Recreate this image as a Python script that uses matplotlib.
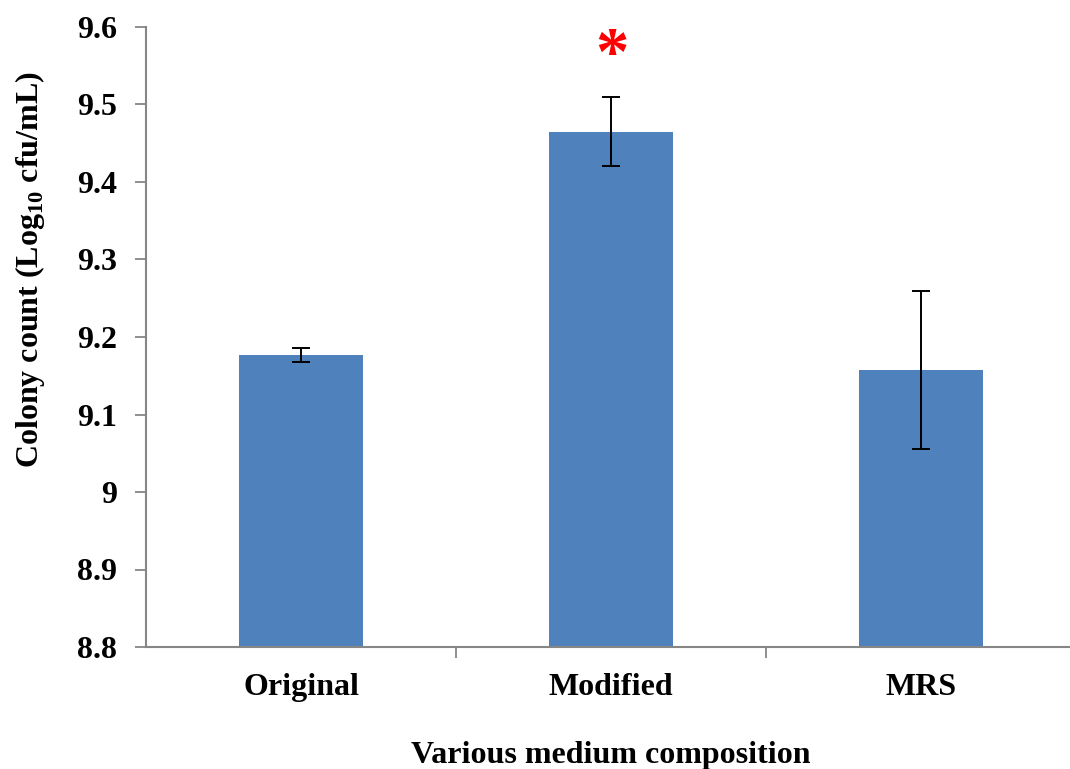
import matplotlib
matplotlib.use("Agg")
import matplotlib.pyplot as plt

categories = ["Original", "Modified", "MRS"]
means = [9.177, 9.465, 9.157]
errors = [0.009, 0.045, 0.102]
yticks = [8.8, 8.9, 9.0, 9.1, 9.2, 9.3, 9.4, 9.5, 9.6]
ytick_labels = ["8.8", "8.9", "9", "9.1", "9.2", "9.3", "9.4", "9.5", "9.6"]

plt.rcParams['font.family'] = ['Liberation Serif', 'DejaVu Serif']
plt.rcParams['font.weight'] = 'bold'
plt.rcParams['mathtext.fontset'] = 'custom'
plt.rcParams['mathtext.rm'] = 'Liberation Serif:bold'
plt.rcParams['mathtext.bf'] = 'Liberation Serif:bold'

FS = 23

fig = plt.figure(figsize=(10.7, 7.69), dpi=100)
ax = fig.add_axes([146/1070, 1-647/769, 930/1070, (647-27)/769])

x = list(range(len(categories)))
ax.bar(x, means, width=0.403, color="#4F81BD", zorder=2)
ax.errorbar(x, means, yerr=errors, fmt='none', ecolor='black', elinewidth=1.4,
            capsize=6.5, capthick=1.4, zorder=3)

ax.set_xlim(-0.5, 2.5)
ax.set_ylim(8.8, 9.6)
ax.set_yticks(yticks)
ax.set_yticklabels(ytick_labels, fontsize=FS, fontweight='bold')
ax.set_xticks([0.5, 1.5])
ax.set_xticklabels([])
ax.set_xticks(x, minor=True)
ax.set_xticklabels(categories, minor=True, fontsize=FS, fontweight='bold')
ax.tick_params(axis='x', which='minor', length=0, pad=19)
ax.tick_params(axis='x', which='major', length=8, width=1.3, color='#868686', direction='out')
ax.tick_params(axis='y', length=8, width=1.3, color='#868686', direction='out', pad=13)

for s in ['top', 'right']:
    ax.spines[s].set_visible(False)
for s in ['left', 'bottom']:
    ax.spines[s].set_color('#868686')
    ax.spines[s].set_linewidth(1.5)

ax.set_ylabel("Colony count (Log$_{\\mathbf{10}}$ cfu/mL)", fontsize=FS, fontweight='bold')
ax.yaxis.label.set_va('center')
ax.yaxis.set_label_coords((30 - 146) / 930, (647 - 270) / 620)
ax.set_xlabel("Various medium composition", fontsize=FS, fontweight='bold')
ax.xaxis.label.set_va('center')
ax.xaxis.set_label_coords((611 - 146) / 930, (647 - 755) / 620)

ax.text(1.003, 9.6 - (50 - 27) / 775, "*", color='red', fontsize=48, fontweight='bold',
        ha='center', va='center_baseline')

fig.savefig("out.png", dpi=100)
